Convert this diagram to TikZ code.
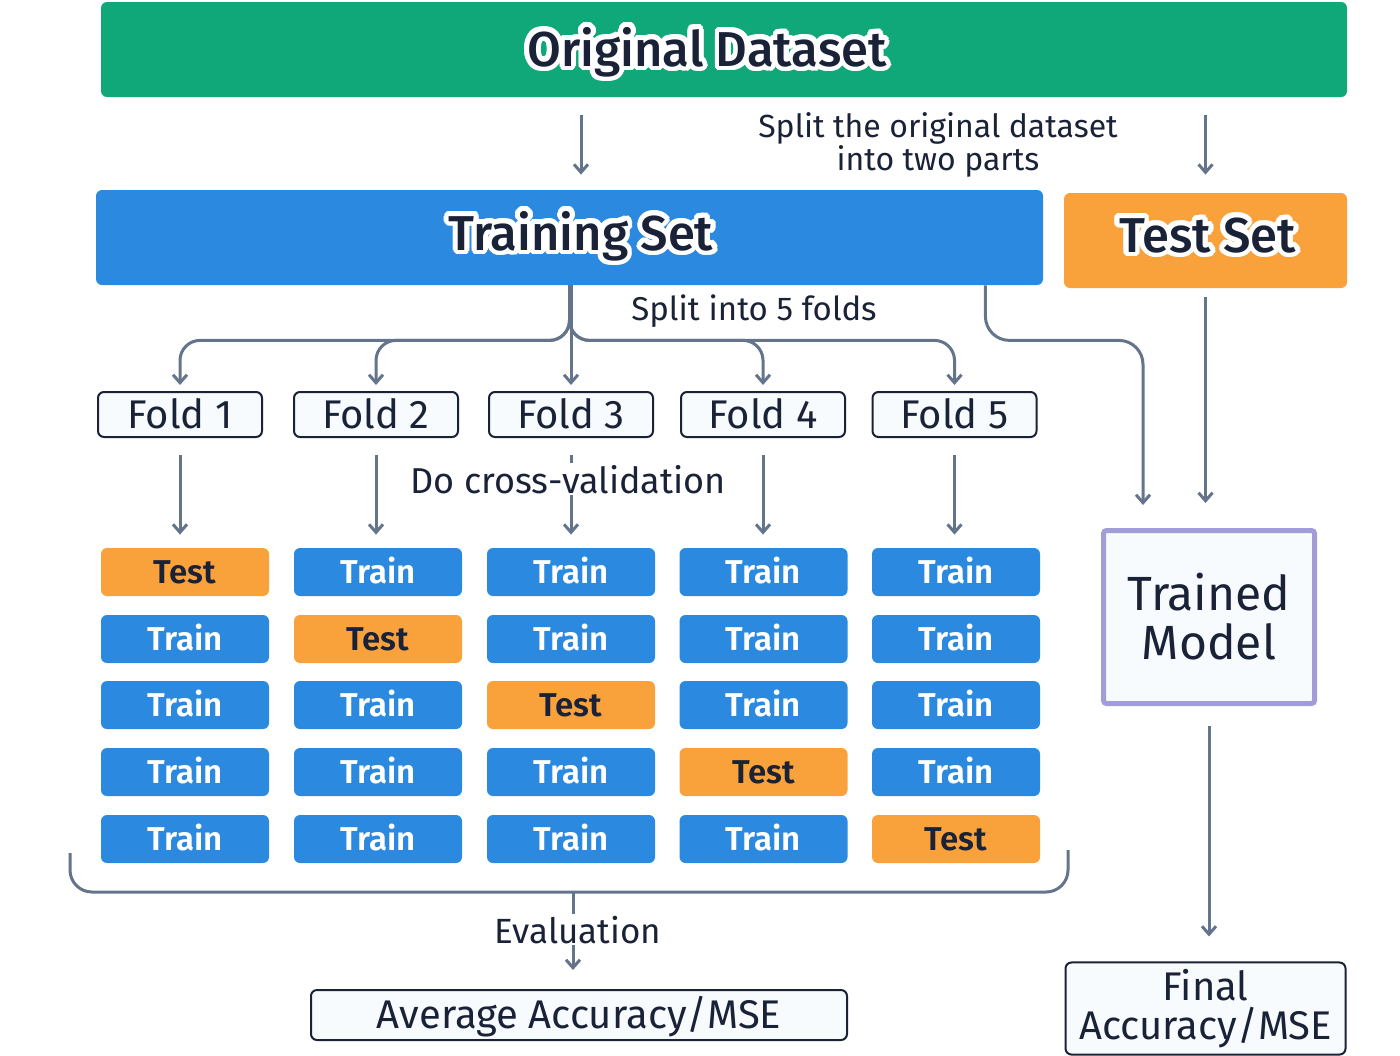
\documentclass[tikz,border=0pt]{standalone}
\usepackage{fontspec}
\setmainfont{Fira Sans}
\newfontfamily\titlefont{Fira Sans Medium}
\newfontfamily\semifont{Fira Sans SemiBold}
\usetikzlibrary{arrows.meta}
\definecolor{dgreen}{HTML}{10A878}
\definecolor{cblue}{HTML}{2B8AE0}
\definecolor{corange}{HTML}{F9A23B}
\definecolor{navy}{HTML}{1A2238}
\definecolor{cgray}{HTML}{64748B}
\definecolor{paper}{HTML}{F8FBFD}
\definecolor{lav}{HTML}{A09DD8}
\newcommand\halotext[2]{%
  \leavevmode
  \foreach \a in {0,15,...,345}{%
    \pgfmathsetlengthmacro\hx{#1*cos(\a)}%
    \pgfmathsetlengthmacro\hy{#1*sin(\a)}%
    \rlap{\hspace*{\hx}\raisebox{\hy}{\color{white}#2}}}%
  #2}
\tikzset{
  bigbox/.style={rectangle, rounded corners=3pt, inner sep=0pt, minimum height=47.5pt},
  titletext/.style={font=\titlefont\fontsize{24.5}{28}\selectfont, text=navy, anchor=base, inner sep=0pt},
  foldbox/.style={rectangle, rounded corners=3pt, draw=navy, line width=1pt, fill=paper,
    minimum width=82pt, minimum height=22.5pt, inner sep=0pt, text=navy,
    font=\fontsize{20}{24}\selectfont, text height=13.8pt, text depth=0pt},
  cell/.style={rectangle, rounded corners=3pt, minimum width=84pt, minimum height=24pt,
    inner sep=0pt, font=\semifont\fontsize{16.5}{20}\selectfont, text height=11.4pt, text depth=0pt},
  trainc/.style={cell, fill=cblue, text=white},
  testc/.style={cell, fill=corange, text=navy},
  lbl/.style={text=navy, inner sep=1pt},
  conn/.style={draw=cgray, line width=1.5pt, -{Straight Barb[length=4pt,width=7pt]}},
  brk/.style={draw=cgray, line width=1.5pt, rounded corners=11pt},
}
\begin{document}
\begin{tikzpicture}[x=0.5pt,y=-0.5pt]
\useasboundingbox (0,0) rectangle (1400,1055);

% top boxes
\node[bigbox, fill=dgreen, minimum width=623pt] (orig) at (724,49.5) {};
\node[titletext] (origlbl) at (707,66) {\halotext{2.4pt}{Original Dataset}};
\node[bigbox, fill=cblue, minimum width=473.5pt] (ts) at (569.5,237.5) {};
\node[titletext] (tslbl) at (581,250) {\halotext{2.4pt}{Training Set}};
\node[bigbox, fill=corange, minimum width=141.5pt] (tst) at (1205.5,240.5) {};
\node[titletext] (tstlbl) at (1207.5,252) {\halotext{2.4pt}{Test Set}};

\node[lbl, align=center, font=\fontsize{16}{15}\selectfont] (splitlbl) at (938,145) {Split the original dataset\\into two parts};
\node[lbl, font=\fontsize{16.5}{20}\selectfont, anchor=base] (foldslbl) at (754,320) {Split into 5 folds};

% folds
\node[foldbox] (f1) at (180,414.5) {Fold 1};
\node[foldbox] (f2) at (376,414.5) {Fold 2};
\node[foldbox] (f3) at (571,414.5) {Fold 3};
\node[foldbox] (f4) at (763,414.5) {Fold 4};
\node[foldbox] (f5) at (954.5,414.5) {Fold 5};

% cells
\foreach \c/\cx in {1/185,2/378,3/571,4/763.5,5/956}{
  \foreach \r/\ry in {1/572,2/639,3/705,4/772,5/839}{
    \ifnum\r=\c \def\sty{testc}\def\txt{Test}\else\def\sty{trainc}\def\txt{Train}\fi
    \node[\sty] (c\r\c) at (\cx,\ry) {\txt};
  }
}

% trained model and results
\node[draw=lav, line width=2.5pt, fill=paper, rounded corners=1.5pt, minimum width=105.5pt,
  minimum height=86.5pt, align=center, text=navy, font=\fontsize{24}{24.5}\selectfont] (tm) at (1209,617) {Trained\\Model};
\node[foldbox, minimum width=268pt, minimum height=25pt] (avg) at (579,1015) {Average Accuracy/MSE};
\node[rectangle, rounded corners=3pt, draw=navy, line width=1pt, fill=paper, minimum width=140pt,
  minimum height=43pt, align=center, text=navy, font=\fontsize{20}{19.5}\selectfont] (final) at (1205.5,1008.5) {Final\\Accuracy/MSE};

% connectors from the original dataset
\draw[conn, shorten <=9pt, shorten >=7.5pt] (orig.south -| tslbl) -- (ts.north -| tslbl);
\draw[conn, shorten <=9pt, shorten >=9pt] (orig.south -| tst.north) -- (tst.north);

% fold tree
\draw[conn, rounded corners=10pt, shorten >=3pt] (ts.south) -- ++(0,55) -| (f1.north);
\draw[conn, rounded corners=10pt, shorten >=3pt] (ts.south) -- ++(0,55) -| (f2.north);
\draw[conn, shorten >=3pt] (f3.north |- ts.south) -- (f3.north);
\draw[conn, rounded corners=10pt, shorten >=3pt] (ts.south) -- ++(0,55) -| (f4.north);
\draw[conn, rounded corners=10pt, shorten >=3pt] (ts.south) -- ++(0,55) -| (f5.north);

% training set / test set to trained model
\coordinate (tmL) at (1143,505);
\draw[conn, rounded corners=12pt] ([xshift=-29pt]ts.south east) -- ++(0,55) -| (tmL);
\draw[conn, shorten <=4.5pt, shorten >=12.5pt] (tst.south) -- (tst.south |- tm.north);

% folds to cells
\foreach \i in {1,...,5}{
  \draw[conn, shorten <=8.5pt, shorten >=6.5pt] (f\i.south) -- (f\i.south |- c1\i.north);
}
\node[lbl, fill=white, font=\fontsize{18}{20}\selectfont, anchor=base] (cvlbl) at (568,493) {Do cross-validation};

% bracket and evaluation
\coordinate (bl) at (70,853);
\coordinate (br) at (1068,850);
\coordinate (bm) at (573,892);
\draw[brk] (bl) -- (70,892) -- (1068,892) -- (br);
\draw[conn, shorten >=9.5pt] (bm) -- (bm |- avg.north);
\node[lbl, fill=white, font=\fontsize{17.5}{20}\selectfont, anchor=base] (evallbl) at (578,943) {Evaluation};

% trained model to final
\draw[conn, shorten <=10pt, shorten >=12.5pt] (tm.south) -- (tm.south |- final.north);
\end{tikzpicture}
\end{document}
